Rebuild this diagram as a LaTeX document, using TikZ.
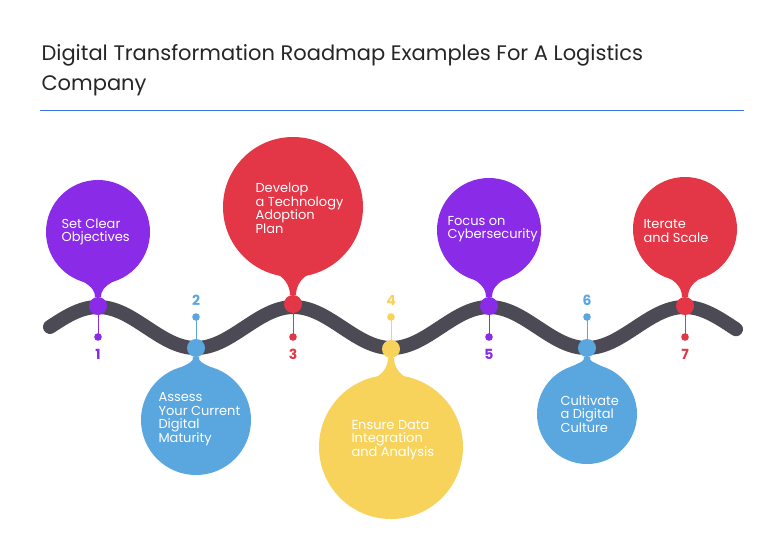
\documentclass[tikz,border=0pt]{standalone}
\usepackage{fontspec}
\setmainfont{Poppins}
\begin{document}
\begin{tikzpicture}[x=1pt,y=-1pt,
  lbl/.style={text=white,font=\fontsize{13}{13.5}\selectfont,align=left,anchor=west},
  num/.style={font=\bfseries\fontsize{14}{14}\selectfont}]
\definecolor{cpur}{HTML}{8A2BE8}
\definecolor{cred}{HTML}{E33646}
\definecolor{cblu}{HTML}{5AA6DF}
\definecolor{cyel}{HTML}{F8D35C}
\definecolor{cgry}{HTML}{4B4A55}
\useasboundingbox[fill=white] (0,0) rectangle (784,550);
\node[anchor=west,align=left,font=\fontsize{21}{30}\selectfont,text=black!85] (title) at (38,70) {Digital Transformation Roadmap Examples For A Logistics\\Company};
\draw[cblu!70!blue,line width=0.8pt] (40,110) coordinate (l1) -- (744,110) coordinate (l2);
\draw[cgry,line width=14pt,line cap=round] plot[domain=50:736,samples=150,smooth] (\x,{327.5-20.5*cos(1.8414*(\x-98))});
\foreach \cx/\cy/\r/\c/\n/\ky in {98/232/52/cpur/1/306,293/207/70/cred/3/304,489/230/52/cpur/5/306,685/229/52/cred/7/306}{
  \fill[\c] (\cx,\cy) circle (\r);
  \fill[\c] (\cx-16,\cy+\r-3) .. controls (\cx-5,\cy+\r+3) and (\cx-3,\ky-14) .. (\cx-3,\ky-9) -- (\cx+3,\ky-9) .. controls (\cx+3,\ky-14) and (\cx+5,\cy+\r+3) .. (\cx+16,\cy+\r-3) -- cycle;
  \fill[\c] (\cx,\ky) circle (9);
  \draw[\c,line width=1pt] (\cx,\ky) -- (\cx,337);
  \fill[\c] (\cx,337) circle (3.8);
  \node[num,text=\c] (n\n) at (\cx,354) {\n};
}
\foreach \cx/\cy/\r/\c/\n/\ky in {196/420/55/cblu/2/348,391/447/72/cyel/4/349,587/414/50/cblu/6/348}{
  \fill[\c] (\cx,\cy) circle (\r);
  \fill[\c] (\cx-16,\cy-\r+3) .. controls (\cx-5,\cy-\r-3) and (\cx-3,\ky+14) .. (\cx-3,\ky+9) -- (\cx+3,\ky+9) .. controls (\cx+3,\ky+14) and (\cx+5,\cy-\r-3) .. (\cx+16,\cy-\r+3) -- cycle;
  \fill[\c] (\cx,\ky) circle (9);
  \draw[\c,line width=1pt] (\cx,\ky) -- (\cx,317);
  \fill[\c] (\cx,317) circle (3.8);
  \node[num,text=\c] (n\n) at (\cx,300) {\n};
}
\node[lbl] (t1) at (58,232) {Set Clear\\Objectives};
\node[lbl] (t3) at (252,208) {Develop\\a Technology\\Adoption\\Plan};
\node[lbl] (t5) at (444,229) {Focus on\\Cybersecurity};
\node[lbl] (t7) at (640,231) {Iterate\\and Scale};
\node[lbl] (t2) at (155,419) {Assess\\Your Current\\Digital\\Maturity};
\node[lbl] (t4) at (348,440) {Ensure Data\\Integration\\and Analysis};
\node[lbl] (t6) at (557,414) {Cultivate\\a Digital\\Culture};
\end{tikzpicture}
\end{document}
